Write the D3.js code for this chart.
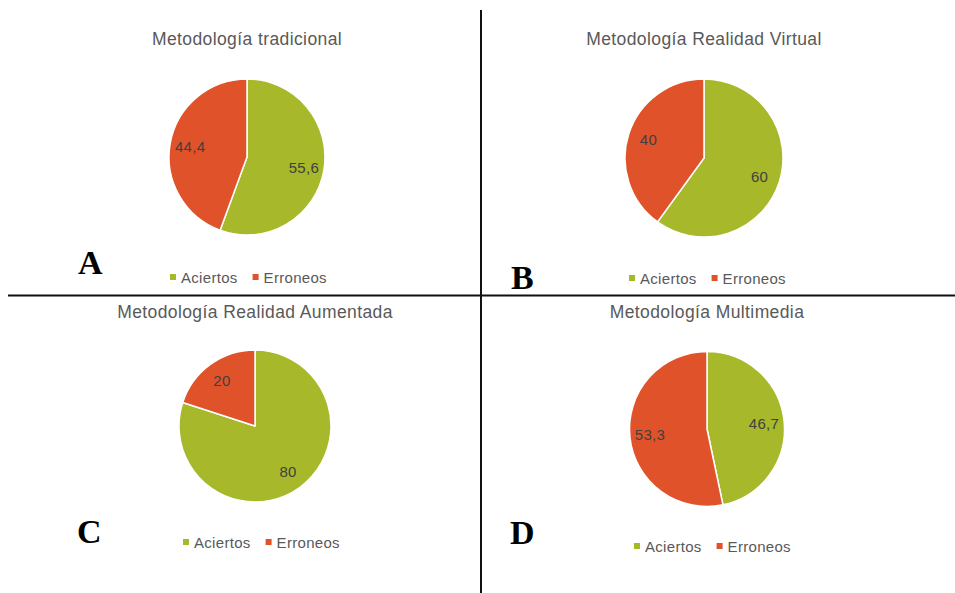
<!DOCTYPE html>
<html>
<head>
<meta charset="utf-8">
<script src="https://cdn.jsdelivr.net/npm/d3@7"></script>
<style>
  html, body { margin: 0; padding: 0; background: #fff; }
  svg { display: block; }
</style>
</head>
<body>
<svg id="chart" width="955" height="593"></svg>
<script>
// Categories and series values for the four methodologies
const categories = ["Aciertos", "Erroneos"];
const panelTitles = [
  "Metodología tradicional",
  "Metodología Realidad Virtual",
  "Metodología Realidad Aumentada",
  "Metodología Multimedia"
];
const panelLetters = ["A", "B", "C", "D"];
const tradicional = [55.6, 44.4];
const realidadVirtual = [60, 40];
const realidadAumentada = [80, 20];
const multimedia = [46.7, 53.3];
const valueLabels = [
  ["55,6", "44,4"],
  ["60", "40"],
  ["80", "20"],
  ["46,7", "53,3"]
];
const seriesValues = [tradicional, realidadVirtual, realidadAumentada, multimedia];

// Layout of each panel
const layout = [
  { cx: 247, cy: 157, r: 78, titleY: 45, legendY: 277, legendX: 173, letterX: 78, letterY: 274 },
  { cx: 704, cy: 158, r: 79, titleY: 45, legendY: 278, legendX: 632, letterX: 511, letterY: 289 },
  { cx: 255, cy: 426, r: 76, titleY: 318, legendY: 542, legendX: 186, letterX: 77, letterY: 543 },
  { cx: 707, cy: 429, r: 77.5, titleY: 318, legendY: 546, legendX: 637, letterX: 510, letterY: 544 }
];

const color = d3.scaleOrdinal().domain(categories).range(["#a8b82b", "#e0532a"]);

const svg = d3.select("#chart");

const pie = d3.pie().sort(null).value(d => d.value);

seriesValues.forEach((vals, i) => {
  const L = layout[i];
  const data = categories.map((c, k) => ({ name: c, value: vals[k], label: valueLabels[i][k] }));
  const arcs = pie(data);
  const arc = d3.arc().innerRadius(0).outerRadius(L.r);
  const labelArc = d3.arc().innerRadius(L.r * 0.74).outerRadius(L.r * 0.74);

  const g = svg.append("g").attr("transform", `translate(${L.cx},${L.cy})`);

  g.selectAll("path.slice")
    .data(arcs)
    .join("path")
    .attr("class", "slice")
    .attr("d", arc)
    .attr("fill", d => color(d.data.name))
    .attr("stroke", "#fff")
    .attr("stroke-width", 1.5)
    .attr("stroke-linejoin", "round");

  g.selectAll("text.val")
    .data(arcs)
    .join("text")
    .attr("class", "val")
    .attr("transform", d => `translate(${labelArc.centroid(d)})`)
    .attr("text-anchor", "middle")
    .attr("dominant-baseline", "central")
    .attr("font-family", "Liberation Sans, Arial, sans-serif")
    .attr("font-size", 15)
    .attr("letter-spacing", 0.3)
    .attr("fill", "#404040")
    .text(d => d.data.label);

  // Title
  svg.append("text")
    .attr("x", L.cx)
    .attr("y", L.titleY)
    .attr("text-anchor", "middle")
    .attr("font-family", "Liberation Sans, Arial, sans-serif")
    .attr("font-size", 17.5)
    .attr("letter-spacing", 0.4)
    .attr("fill", "#595959")
    .text(panelTitles[i]);

  // Legend
  const leg = svg.append("g").attr("transform", `translate(${L.legendX},${L.legendY})`);
  let x = 0;
  categories.forEach((c, k) => {
    leg.append("rect")
      .attr("x", x - 3).attr("y", -3)
      .attr("width", 6).attr("height", 6)
      .attr("fill", color(c));
    const t = leg.append("text")
      .attr("x", x + 8)
      .attr("y", 0)
      .attr("dominant-baseline", "central")
      .attr("font-family", "Liberation Sans, Arial, sans-serif")
      .attr("font-size", 15)
      .attr("letter-spacing", 0.3)
      .attr("fill", "#595959")
      .text(c);
    x += 8 + t.node().getComputedTextLength() + 18;
  });

  // Panel letter
  svg.append("text")
    .attr("x", L.letterX)
    .attr("y", L.letterY)
    .attr("font-family", "Liberation Serif, Times New Roman, serif")
    .attr("font-weight", "bold")
    .attr("font-size", 34)
    .attr("fill", "#000")
    .text(panelLetters[i]);
});

// Dividing lines between the panels
svg.append("line")
  .attr("x1", 481).attr("x2", 481)
  .attr("y1", 10).attr("y2", 593)
  .attr("stroke", "#111").attr("stroke-width", 2);
svg.append("line")
  .attr("x1", 8).attr("x2", 955)
  .attr("y1", 295.5).attr("y2", 295.5)
  .attr("stroke", "#111").attr("stroke-width", 2);
</script>
</body>
</html>
